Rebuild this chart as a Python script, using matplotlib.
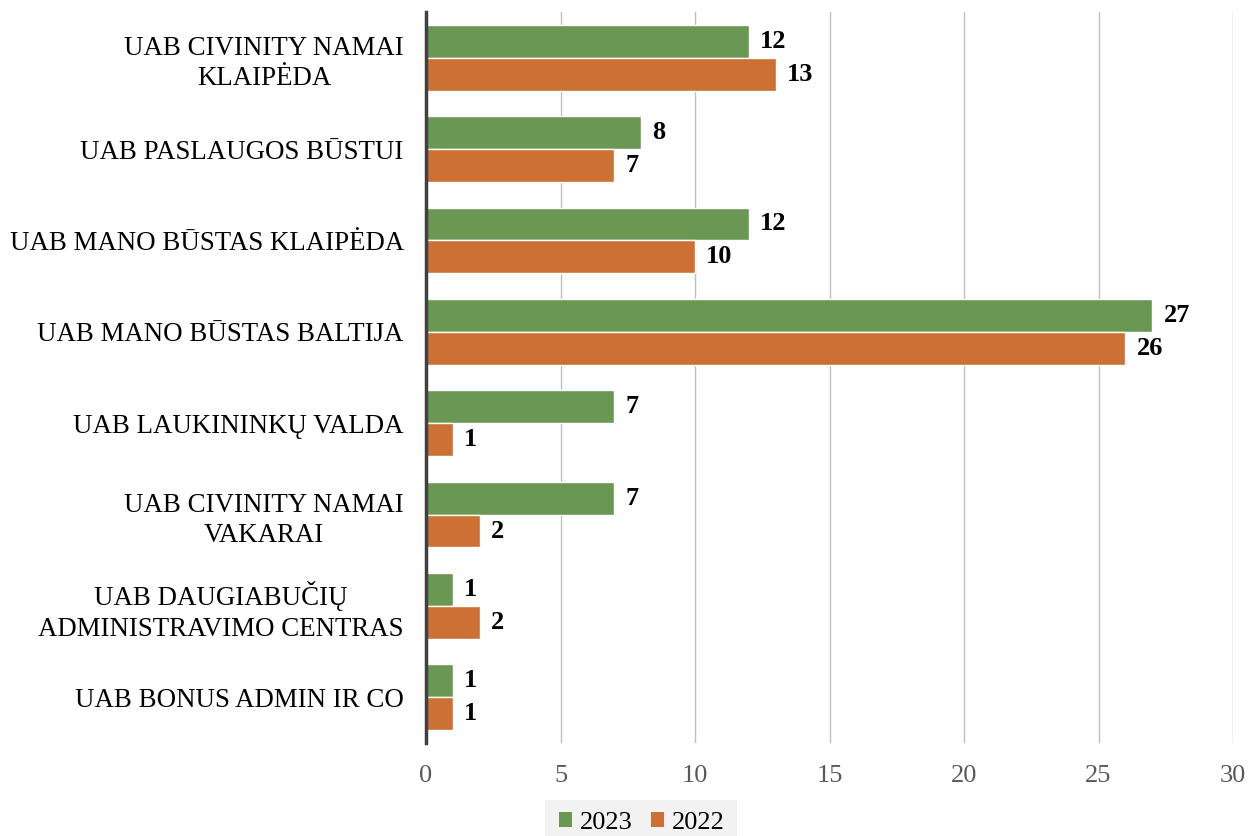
import matplotlib
matplotlib.use("Agg")
import matplotlib.pyplot as plt
from matplotlib.patches import Rectangle
import numpy as np

plt.rcParams['font.family'] = ['Liberation Serif', 'DejaVu Serif']

categories = [
    "UAB CIVINITY NAMAI\nKLAIPĖDA",
    "UAB PASLAUGOS BŪSTUI",
    "UAB MANO BŪSTAS KLAIPĖDA",
    "UAB MANO BŪSTAS BALTIJA",
    "UAB LAUKININKŲ VALDA",
    "UAB CIVINITY NAMAI\nVAKARAI",
    "UAB DAUGIABUČIŲ\nADMINISTRAVIMO CENTRAS",
    "UAB BONUS ADMIN IR CO",
]
values_2023 = [12, 8, 12, 27, 7, 7, 1, 1]
values_2022 = [13, 7, 10, 26, 1, 2, 2, 1]
xticks = [0, 5, 10, 15, 20, 25, 30]

green = "#6A9853"
orange = "#CC7034"

W, H = 1249, 836
fig = plt.figure(figsize=(W/100, H/100), dpi=100)
ax = fig.add_axes([426/W, 1-743/H, (1233-426)/W, (743-12)/H])

y = np.arange(len(categories))
h = 0.36
b1 = ax.barh(y - h/2, values_2023, height=h, color=green, edgecolor="white", linewidth=1, label="2023", zorder=3)
b2 = ax.barh(y + h/2, values_2022, height=h, color=orange, edgecolor="white", linewidth=1, label="2022", zorder=3)

for bars in (b1, b2):
    for rect in bars:
        w = rect.get_width()
        ax.annotate(f"{int(w)}", (w, rect.get_y() + rect.get_height()/2),
                    xytext=(8, 0), textcoords="offset points",
                    ha="left", va="center", fontsize=19, fontweight="bold", color="black")

ax.set_ylim(len(categories) - 0.5, -0.5)
ax.set_xlim(0, 30)
ax.set_xticks(xticks)
ax.set_xticklabels([str(t) for t in xticks], fontsize=19, color="#595959")
ax.set_yticks(y)
ax.set_yticklabels(categories, fontsize=19.4, color="black", linespacing=1.3)
for lab in ax.get_yticklabels():
    lab.set_multialignment("center")
ax.tick_params(axis="y", length=0, pad=16)
ax.tick_params(axis="x", length=0, pad=16)

ax.grid(axis="x", color="#BFBFBF", linewidth=1, zorder=0)
ax.grid(axis="y", visible=False)
for s in ("top", "right", "bottom"):
    ax.spines[s].set_visible(False)
ax.spines["left"].set_color("#404040")
ax.spines["left"].set_linewidth(2.5)
ax.spines["left"].set_zorder(5)

# legend background box
fig.patches.append(Rectangle((545/W, 0), (737-545)/W, (H-800)/H, transform=fig.transFigure,
                             facecolor="#F2F2F2", edgecolor="none", zorder=0))
leg = fig.legend(handles=[b1, b2], labels=["2023", "2022"], loc="center",
                 bbox_to_anchor=(642/W, 1-823/H), ncol=2, frameon=False,
                 fontsize=19, handlelength=0.5, handleheight=0.5, handletextpad=0.3,
                 columnspacing=0.7, borderpad=0.2)
for hnd in leg.legend_handles:
    hnd.set_linewidth(0)

fig.savefig("out.png", dpi=100, facecolor="white")
